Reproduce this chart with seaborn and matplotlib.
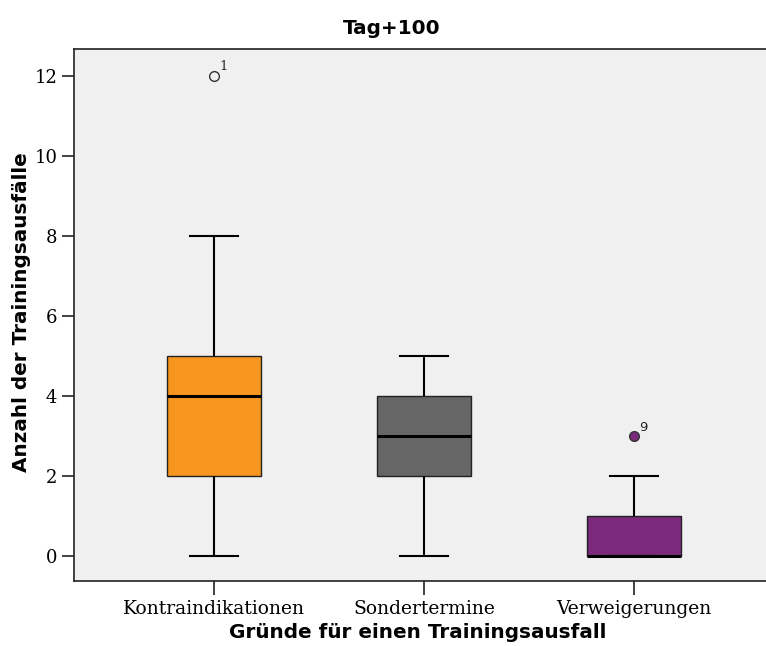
import numpy as np
import pandas as pd
import matplotlib
matplotlib.use("Agg")
import matplotlib.pyplot as plt
import seaborn as sns

# Werte je Fall (Fallnummer = Position + 1)
grunde = ["Kontraindikationen", "Sondertermine", "Verweigerungen"]
faelle = [1, 2, 3, 4, 5, 6, 7, 8, 9]
kontraindikationen = [12, 0, 2, 2, 3, 4, 5, 5, 8]
sondertermine = [0, 2, 2, 3, 3, 4, 4, 5, 5]
verweigerungen = [0, 0, 1, 0, 2, 0, 1, 0, 3]
y_ticks = [0, 2, 4, 6, 8, 10, 12]

farben = ["#F7961E", "#666666", "#7B2A7B"]
ausreisser_gefuellt = [False, False, True]

werte = [kontraindikationen, sondertermine, verweigerungen]
df = pd.DataFrame({
    "grund": np.repeat(grunde, len(faelle)),
    "fall": faelle * len(grunde),
    "anzahl": np.concatenate(werte),
})

fig = plt.figure(figsize=(7.66, 6.46), dpi=100)
ax = fig.add_axes([74 / 766, 65 / 646, 700 / 766, 532 / 646])
ax.set_facecolor("#F0F0F0")

sns.boxplot(
    data=df, x="grund", y="anzahl", hue="grund", order=grunde, hue_order=grunde,
    palette=farben, saturation=1, width=0.45, whis=1.5, showfliers=False,
    linecolor="#222222", linewidth=1, legend=False, ax=ax,
    medianprops=dict(color="black", linewidth=2.2),
    whiskerprops=dict(color="black", linewidth=1.5),
    capprops=dict(color="black", linewidth=1.5),
)

# Ausreisser mit Fallnummer beschriften
for i, vals in enumerate(werte):
    vals = np.array(vals)
    q1, q3 = np.percentile(vals, [25, 75])
    iqr = q3 - q1
    for fall, v in zip(faelle, vals):
        if v > q3 + 1.5 * iqr or v < q1 - 1.5 * iqr:
            face = farben[i] if ausreisser_gefuellt[i] else "none"
            ax.plot(i, v, marker="o", ms=7, mfc=face, mec="#333333", mew=1, zorder=5)
            ax.annotate(str(fall), (i, v), xytext=(4, 4), textcoords="offset points",
                        fontsize=9.5, family="DejaVu Serif" if i == 0 else "DejaVu Sans",
                        color="#222222")

ax.set_xlim(-0.667, 2.667)
ax.set_ylim(-0.62, 12.67)
ax.set_yticks(y_ticks)
ax.set_yticklabels([str(t) for t in y_ticks])
ax.set_xlabel("")
ax.set_ylabel("")
for s in ax.spines.values():
    s.set_color("#222222")
    s.set_linewidth(1.2)
ax.spines["right"].set_visible(False)
ax.tick_params(axis="both", direction="out", length=8.5, width=1.2, color="#222222",
               labelsize=13, labelcolor="black")
ax.tick_params(axis="x", length=10, pad=4, labelsize=13.5)
for lab in ax.get_xticklabels() + ax.get_yticklabels():
    lab.set_family("DejaVu Serif")

titel_kw = dict(ha="center", va="center", fontsize=14.4, fontweight="bold",
                family="DejaVu Sans")
fig.text(392 / 766, 1 - 28 / 646, "Tag+100", **titel_kw)
fig.text(418 / 766, 1 - 632 / 646, "Gründe für einen Trainingsausfall", **titel_kw)
fig.text(22 / 766, 1 - 312 / 646, "Anzahl der Trainingsausfälle", rotation=90, **titel_kw)

fig.savefig("out.png", dpi=100)
